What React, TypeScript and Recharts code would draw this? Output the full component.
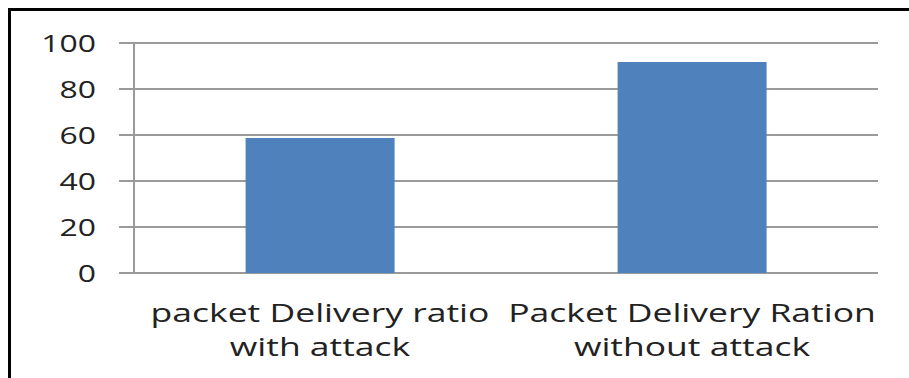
import React from "react";
import { BarChart, Bar, XAxis, YAxis, CartesianGrid } from "recharts";

const categories = [
  "packet Delivery ratio with attack",
  "Packet Delivery Ration without attack",
];
const labelLines = [
  ["packet Delivery ratio", "with attack"],
  ["Packet Delivery Ration", "without attack"],
];
const values = [58.7, 91.7];
const yTicks = [0, 20, 40, 60, 80, 100];

const data = categories.map((c, i) => ({ name: c, value: values[i], idx: i }));

const FONT = "'Open Sans', sans-serif";
const GRID = "#9a9a9a";
const TEXT = "#222";

const YTick = (props: any) => {
  const { x, y, payload } = props;
  return (
    <g transform={`translate(${x},${y}) scale(1.33,1)`}>
      <text textAnchor="end" dy="0.36em" fontFamily={FONT} fontSize={24} fill={TEXT}>
        {payload.value}
      </text>
    </g>
  );
};

const XTick = (props: any) => {
  const { x, y, index } = props;
  const lines = labelLines[index] || [];
  return (
    <g transform={`translate(${x},${y}) scale(1.42,1)`}>
      <text textAnchor="middle" fontFamily={FONT} fontSize={25} fill={TEXT}>
        {lines.map((l, i) => (
          <tspan key={i} x={0} y={i * 34}>
            {l}
          </tspan>
        ))}
      </text>
    </g>
  );
};

export default function App() {
  return (
    <div
      style={{
        position: "fixed",
        left: 0,
        top: 0,
        width: 909,
        height: 378,
        overflow: "hidden",
        background: "#fff",
      }}
    >
      <div
        style={{
          position: "absolute",
          left: 8,
          top: 8,
          width: 960,
          height: 420,
          border: "3px solid #000",
          background: "#fff",
        }}
      >
        <BarChart
          width={940}
          height={400}
          data={data}
          margin={{ top: 32, right: 73, left: 0, bottom: 0 }}
          barCategoryGap="30%"
        >
          <CartesianGrid horizontal vertical={false} stroke={GRID} strokeWidth={2} />
          <XAxis
            xAxisId="edge"
            type="number"
            domain={[0, 2]}
            ticks={[0, 1, 2]}
            allowDataOverflow
            tick={false}
            tickSize={10}
            height={0}
            axisLine={{ stroke: GRID, strokeWidth: 2 }}
            tickLine={{ stroke: GRID, strokeWidth: 2 }}
          />
          <XAxis
            dataKey="name"
            height={138}
            axisLine={false}
            tickLine={false}
            tickSize={0}
            tickMargin={49}
            interval={0}
            tick={<XTick />}
          />
          <YAxis
            width={123}
            domain={[0, 100]}
            ticks={yTicks}
            tickSize={15}
            tickMargin={23}
            axisLine={{ stroke: GRID, strokeWidth: 2 }}
            tickLine={{ stroke: GRID, strokeWidth: 2 }}
            tick={<YTick />}
          />
          <Bar dataKey="value" fill="#4F81BD" isAnimationActive={false} />
        </BarChart>
      </div>
    </div>
  );
}
